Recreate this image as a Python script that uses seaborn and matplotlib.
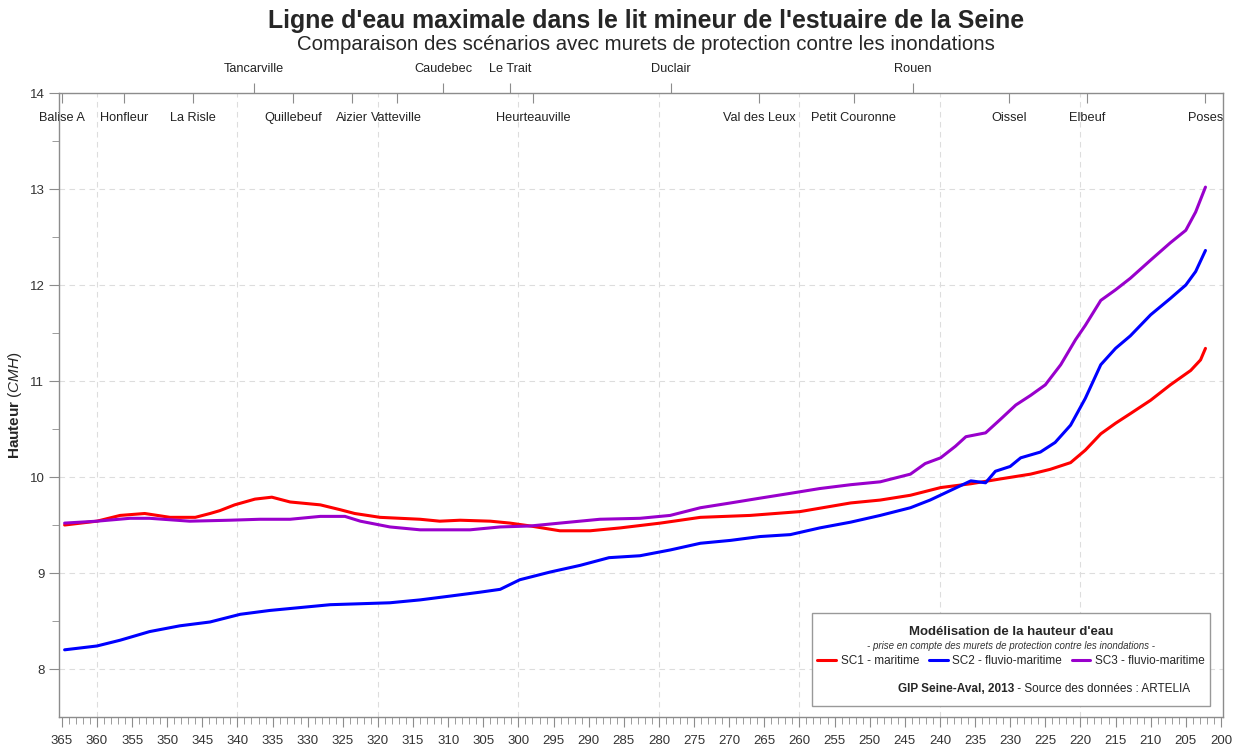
import numpy as np
import pandas as pd
import seaborn as sns
import matplotlib.pyplot as plt
from matplotlib.ticker import MultipleLocator, FixedLocator
from matplotlib.patches import Rectangle

# --- data (PK in km, water level in m CMH) ---
sc1_pk = [364.6, 360, 356.7, 353.2, 349.6, 346, 343.9, 342.5, 340.4, 337.5, 335.1, 332.5, 328.2,
          325.4, 323.3, 319.7, 314, 311.2, 308.3, 304, 301.2, 298.3, 294.1, 289.8, 285.5, 279.8,
          274.1, 267, 259.9, 252.7, 248.5, 244.2, 239.9, 235.6, 231.4, 227.1, 224.3, 221.4,
          219.3, 217.1, 215, 212.9, 210, 207.2, 204.3, 202.9, 202.2]
sc1_h = [9.5, 9.54, 9.6, 9.62, 9.58, 9.58, 9.62, 9.65, 9.71, 9.77, 9.79, 9.74, 9.71,
         9.66, 9.62, 9.58, 9.56, 9.54, 9.55, 9.54, 9.52, 9.49, 9.44, 9.44, 9.47, 9.52,
         9.58, 9.6, 9.64, 9.73, 9.76, 9.81, 9.89, 9.93, 9.98, 10.03, 10.08, 10.15,
         10.28, 10.45, 10.56, 10.66, 10.8, 10.96, 11.11, 11.22, 11.34]

sc2_pk = [364.6, 360, 356.7, 352.5, 348.2, 343.9, 339.6, 335.4, 331.1, 326.8, 322.5, 318.3, 314,
          309.7, 305.5, 302.6, 299.8, 295.5, 291.2, 287.1, 282.7, 278.4, 274.1, 269.8, 265.6,
          261.3, 257.1, 252.7, 248.5, 244.2, 241.4, 238.5, 235.6, 233.5, 232.1, 230, 228.5,
          225.7, 223.6, 221.4, 219.3, 217.1, 215, 212.9, 210, 207.2, 205, 203.6, 202.2]
sc2_h = [8.2, 8.24, 8.3, 8.39, 8.45, 8.49, 8.57, 8.61, 8.64, 8.67, 8.68, 8.69, 8.72,
         8.76, 8.8, 8.83, 8.93, 9.01, 9.08, 9.16, 9.18, 9.24, 9.31, 9.34, 9.38,
         9.4, 9.47, 9.53, 9.6, 9.68, 9.76, 9.86, 9.96, 9.94, 10.06, 10.11, 10.2,
         10.26, 10.36, 10.54, 10.82, 11.17, 11.34, 11.47, 11.69, 11.86, 12.0, 12.14, 12.36]

sc3_pk = [364.6, 360, 355.3, 352.5, 346.8, 341.1, 336.8, 332.5, 328.2, 324.7, 322.5, 318.3, 314,
          309.7, 306.9, 302.6, 298.3, 294.1, 288.4, 282.7, 278.4, 274.1, 269.8, 265.6, 261.3,
          257.1, 252.7, 248.5, 244.2, 242.1, 239.9, 237.8, 236.3, 233.5, 231.4, 229.2, 227.1,
          225, 222.8, 220.7, 219.3, 217.1, 215, 212.9, 210, 207.2, 205, 203.6, 202.2]
sc3_h = [9.52, 9.54, 9.57, 9.57, 9.54, 9.55, 9.56, 9.56, 9.59, 9.59, 9.54, 9.48, 9.45,
         9.45, 9.45, 9.48, 9.49, 9.52, 9.56, 9.57, 9.6, 9.68, 9.73, 9.78, 9.83,
         9.88, 9.92, 9.95, 10.03, 10.14, 10.2, 10.32, 10.42, 10.46, 10.6, 10.75, 10.85,
         10.96, 11.17, 11.43, 11.58, 11.84, 11.95, 12.07, 12.26, 12.44, 12.57, 12.76, 13.02]

scenarios = ["SC1 - maritime", "SC2 - fluvio-maritime", "SC3 - fluvio-maritime"]
colors = ["#ff0000", "#0000ff", "#9900cc"]

# places along the river (PK)
upper_places = ["Tancarville", "Caudebec", "Le Trait", "Duclair", "Rouen"]
upper_pk = [337.6, 310.7, 301.2, 278.3, 243.9]
lower_places = ["Balise A", "Honfleur", "La Risle", "Quillebeuf", "Aizier", "Vatteville",
                "Heurteauville", "Val des Leux", "Petit Couronne", "Oissel", "Elbeuf", "Poses"]
lower_pk = [365.0, 356.2, 346.3, 332.1, 323.7, 317.3, 297.9, 265.7, 252.3, 230.1, 219.0, 202.2]

df = pd.concat([
    pd.DataFrame({"pk": sc1_pk, "h": sc1_h, "scen": scenarios[0]}),
    pd.DataFrame({"pk": sc2_pk, "h": sc2_h, "scen": scenarios[1]}),
    pd.DataFrame({"pk": sc3_pk, "h": sc3_h, "scen": scenarios[2]}),
])

sns.set_style("white")
plt.rcParams['font.family'] = ['Liberation Sans', 'DejaVu Sans']
plt.rcParams['mathtext.fontset'] = 'custom'
plt.rcParams['mathtext.rm'] = 'Liberation Sans'
plt.rcParams['mathtext.it'] = 'Liberation Sans:italic'
plt.rcParams['mathtext.bf'] = 'Liberation Sans:bold'

fig = plt.figure(figsize=(12.37, 7.49), dpi=100)
ax = fig.add_axes([0.0477, 0.0427, 0.9410, 0.8331])

sns.lineplot(data=df, x="pk", y="h", hue="scen", palette=dict(zip(scenarios, colors)),
             sort=False, estimator=None, linewidth=2.2, ax=ax)

ax.set_xlim(365.4, 199.7)
ax.set_ylim(7.5, 14)
gray = "#8c8c8c"
for s in ax.spines.values():
    s.set_color(gray)
    s.set_linewidth(1)

ax.xaxis.set_major_locator(MultipleLocator(5))
ax.xaxis.set_minor_locator(MultipleLocator(1))
ax.yaxis.set_major_locator(MultipleLocator(1))
ax.yaxis.set_minor_locator(FixedLocator([8.5, 9.5, 10.5, 11.5, 12.5, 13.5]))
ax.tick_params(axis="both", which="major", direction="out", length=7, color=gray,
               labelsize=9.5, labelcolor="#333333", bottom=True, left=True)
ax.tick_params(axis="both", which="minor", direction="out", length=5, color=gray,
               bottom=True, left=True)
ax.tick_params(axis="x", pad=6)

# dashed grid
ax.yaxis.grid(True, which="major", linestyle=(0, (5, 4)), color="#dddddd", linewidth=0.8)
for g in range(360, 200, -20):
    ax.axvline(g, linestyle=(0, (5, 4)), color="#dddddd", linewidth=0.8, zorder=0)

ax.set_xlabel("")
ax.set_ylabel(r"$\bf{Hauteur}$ $\it{(CMH)}$", fontsize=11, labelpad=4)

# upper row of places: ticks above the frame
top1 = ax.secondary_xaxis("top")
top1.set_xticks(upper_pk, upper_places)
top1.tick_params(direction="out", length=7, color=gray, labelsize=9.2, labelcolor="#222222", pad=6)
top1.spines["top"].set_visible(False)

# lower row of places: ticks inside the frame, labels below
top2 = ax.secondary_xaxis("top")
top2.set_xticks(lower_pk, lower_places)
top2.tick_params(direction="in", length=7, color=gray, labelsize=9.2, labelcolor="#222222", pad=-22)
top2.spines["top"].set_visible(False)

fig.text(0.522, 0.972, "Ligne d'eau maximale dans le lit mineur de l'estuaire de la Seine",
         ha="center", va="center", fontsize=17.9, fontweight="bold")
fig.text(0.522, 0.940, "Comparaison des scénarios avec murets de protection contre les inondations",
         ha="center", va="center", fontsize=14.7)

# legend block
ax.add_patch(Rectangle((0.647, 0.0176), 0.342, 0.149, transform=ax.transAxes, facecolor="white",
                       edgecolor="#999999", linewidth=1, zorder=4))
ax.text(0.818, 0.136, "Modélisation de la hauteur d'eau", transform=ax.transAxes, ha="center",
        va="center", fontsize=9.5, fontweight="bold", zorder=5)
ax.text(0.818, 0.114, "- prise en compte des murets de protection contre les inondations -",
        transform=ax.transAxes, ha="center", va="center", fontsize=7, style="italic",
        color="#333333", zorder=5)
handles, labels = ax.get_legend_handles_labels()
ax.legend(handles, labels, loc="center", bbox_to_anchor=(0.818, 0.0897), ncol=3, frameon=False,
          fontsize=8.5, handlelength=1.6, handletextpad=0.4, columnspacing=0.8,
          borderpad=0).set_zorder(6)
ax.text(0.8204, 0.0449, "GIP Seine-Aval, 2013", transform=ax.transAxes, ha="right", va="center",
        fontsize=8.5, fontweight="bold", zorder=5)
ax.text(0.8204, 0.0449, " - Source des données : ARTELIA", transform=ax.transAxes, ha="left",
        va="center", fontsize=8.5, color="#222222", zorder=5)

fig.savefig("out.png", dpi=100)
